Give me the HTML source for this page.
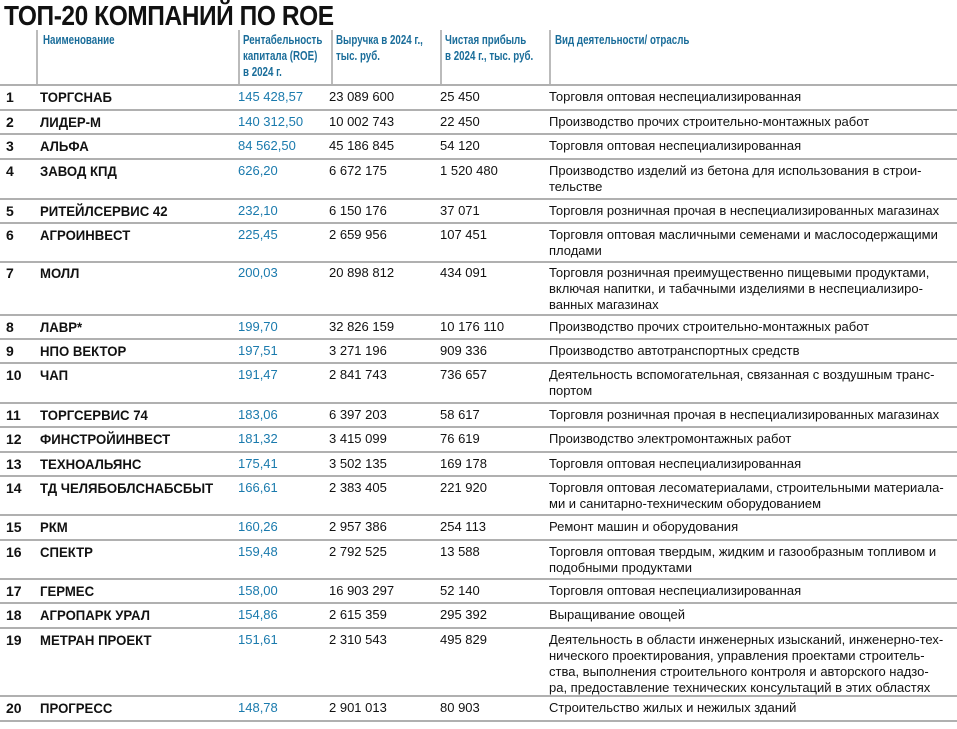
<!DOCTYPE html>
<html><head><meta charset="utf-8"><style>
body{margin:0;width:957px;height:729px;background:#fff;position:relative;overflow:hidden;font-family:"Liberation Sans","DejaVu Sans",sans-serif;color:#111}
.t{position:absolute;left:4px;top:1px;font-size:28px;font-weight:bold;letter-spacing:-0.5px;transform:scaleX(0.875);transform-origin:left;line-height:30px}
.h{position:absolute;top:32px;font-size:12.5px;font-weight:bold;color:#1a6d9a;line-height:16px;transform:scaleX(0.78);transform-origin:left;white-space:nowrap}
.v{position:absolute;top:30px;height:54px;width:2px;background:#bbb}
.l{position:absolute;left:0;width:957px;height:2px;background:#b0b0b0}
.r{position:absolute;left:0;width:957px;font-size:13px;line-height:16px}
.r span{position:absolute;top:0}
.n{left:6px;font-weight:bold;font-size:14px}
.c{left:40px;font-weight:bold;font-size:14px;transform:scaleX(0.94);transform-origin:left;white-space:nowrap}
.e{left:238px;color:#1a7aad}
.rv{left:329px}
.p{left:440px}
.a{left:549px;width:405px}
</style></head><body>
<div class="t">ТОП-20 КОМПАНИЙ ПО ROE</div>
<div class="v" style="left:36px"></div><div class="v" style="left:238px"></div><div class="v" style="left:331px"></div><div class="v" style="left:440px"></div><div class="v" style="left:549px"></div>
<div class="h" style="left:43px">Наименование</div>
<div class="h" style="left:243px">Рентабельность<br>капитала (ROE)<br>в 2024 г.</div>
<div class="h" style="left:336px">Выручка в 2024 г.,<br>тыс. руб.</div>
<div class="h" style="left:445px">Чистая прибыль<br>в 2024 г., тыс. руб.</div>
<div class="h" style="left:555px">Вид деятельности/ отрасль</div>

<div class="l" style="top:84px"></div>
<div class="r" style="top:89px"><span class="n">1</span><span class="c">ТОРГСНАБ</span><span class="e">145 428,57</span><span class="rv">23 089 600</span><span class="p">25 450</span><span class="a">Торговля оптовая неспециализированная</span></div>
<div class="l" style="top:109px"></div>
<div class="r" style="top:114px"><span class="n">2</span><span class="c">ЛИДЕР-М</span><span class="e">140 312,50</span><span class="rv">10 002 743</span><span class="p">22 450</span><span class="a">Производство прочих строительно-монтажных работ</span></div>
<div class="l" style="top:133px"></div>
<div class="r" style="top:138px"><span class="n">3</span><span class="c">АЛЬФА</span><span class="e">84 562,50</span><span class="rv">45 186 845</span><span class="p">54 120</span><span class="a">Торговля оптовая неспециализированная</span></div>
<div class="l" style="top:158px"></div>
<div class="r" style="top:163px"><span class="n">4</span><span class="c">ЗАВОД КПД</span><span class="e">626,20</span><span class="rv">6 672 175</span><span class="p">1 520 480</span><span class="a">Производство изделий из бетона для использования в строи-<br>тельстве</span></div>
<div class="l" style="top:198px"></div>
<div class="r" style="top:203px"><span class="n">5</span><span class="c">РИТЕЙЛСЕРВИС 42</span><span class="e">232,10</span><span class="rv">6 150 176</span><span class="p">37 071</span><span class="a">Торговля розничная прочая в неспециализированных магазинах</span></div>
<div class="l" style="top:222px"></div>
<div class="r" style="top:227px"><span class="n">6</span><span class="c">АГРОИНВЕСТ</span><span class="e">225,45</span><span class="rv">2 659 956</span><span class="p">107 451</span><span class="a">Торговля оптовая масличными семенами и маслосодержащими<br>плодами</span></div>
<div class="l" style="top:261px"></div>
<div class="r" style="top:265px"><span class="n">7</span><span class="c">МОЛЛ</span><span class="e">200,03</span><span class="rv">20 898 812</span><span class="p">434 091</span><span class="a">Торговля розничная преимущественно пищевыми продуктами,<br>включая напитки, и табачными изделиями в неспециализиро-<br>ванных магазинах</span></div>
<div class="l" style="top:314px"></div>
<div class="r" style="top:319px"><span class="n">8</span><span class="c">ЛАВР*</span><span class="e">199,70</span><span class="rv">32 826 159</span><span class="p">10 176 110</span><span class="a">Производство прочих строительно-монтажных работ</span></div>
<div class="l" style="top:338px"></div>
<div class="r" style="top:343px"><span class="n">9</span><span class="c">НПО ВЕКТОР</span><span class="e">197,51</span><span class="rv">3 271 196</span><span class="p">909 336</span><span class="a">Производство автотранспортных средств</span></div>
<div class="l" style="top:362px"></div>
<div class="r" style="top:367px"><span class="n">10</span><span class="c">ЧАП</span><span class="e">191,47</span><span class="rv">2 841 743</span><span class="p">736 657</span><span class="a">Деятельность вспомогательная, связанная с воздушным транс-<br>портом</span></div>
<div class="l" style="top:402px"></div>
<div class="r" style="top:407px"><span class="n">11</span><span class="c">ТОРГСЕРВИС 74</span><span class="e">183,06</span><span class="rv">6 397 203</span><span class="p">58 617</span><span class="a">Торговля розничная прочая в неспециализированных магазинах</span></div>
<div class="l" style="top:426px"></div>
<div class="r" style="top:431px"><span class="n">12</span><span class="c">ФИНСТРОЙИНВЕСТ</span><span class="e">181,32</span><span class="rv">3 415 099</span><span class="p">76 619</span><span class="a">Производство электромонтажных работ</span></div>
<div class="l" style="top:451px"></div>
<div class="r" style="top:456px"><span class="n">13</span><span class="c">ТЕХНОАЛЬЯНС</span><span class="e">175,41</span><span class="rv">3 502 135</span><span class="p">169 178</span><span class="a">Торговля оптовая неспециализированная</span></div>
<div class="l" style="top:475px"></div>
<div class="r" style="top:480px"><span class="n">14</span><span class="c">ТД ЧЕЛЯБОБЛСНАБСБЫТ</span><span class="e">166,61</span><span class="rv">2 383 405</span><span class="p">221 920</span><span class="a">Торговля оптовая лесоматериалами, строительными материала-<br>ми и санитарно-техническим оборудованием</span></div>
<div class="l" style="top:514px"></div>
<div class="r" style="top:519px"><span class="n">15</span><span class="c">РКМ</span><span class="e">160,26</span><span class="rv">2 957 386</span><span class="p">254 113</span><span class="a">Ремонт машин и оборудования</span></div>
<div class="l" style="top:539px"></div>
<div class="r" style="top:544px"><span class="n">16</span><span class="c">СПЕКТР</span><span class="e">159,48</span><span class="rv">2 792 525</span><span class="p">13 588</span><span class="a">Торговля оптовая твердым, жидким и газообразным топливом и<br>подобными продуктами</span></div>
<div class="l" style="top:578px"></div>
<div class="r" style="top:583px"><span class="n">17</span><span class="c">ГЕРМЕС</span><span class="e">158,00</span><span class="rv">16 903 297</span><span class="p">52 140</span><span class="a">Торговля оптовая неспециализированная</span></div>
<div class="l" style="top:602px"></div>
<div class="r" style="top:607px"><span class="n">18</span><span class="c">АГРОПАРК УРАЛ</span><span class="e">154,86</span><span class="rv">2 615 359</span><span class="p">295 392</span><span class="a">Выращивание овощей</span></div>
<div class="l" style="top:627px"></div>
<div class="r" style="top:632px"><span class="n">19</span><span class="c">МЕТРАН ПРОЕКТ</span><span class="e">151,61</span><span class="rv">2 310 543</span><span class="p">495 829</span><span class="a">Деятельность в области инженерных изысканий, инженерно-тех-<br>нического проектирования, управления проектами строитель-<br>ства, выполнения строительного контроля и авторского надзо-<br>ра, предоставление технических консультаций в этих областях</span></div>
<div class="l" style="top:695px"></div>
<div class="r" style="top:700px"><span class="n">20</span><span class="c">ПРОГРЕСС</span><span class="e">148,78</span><span class="rv">2 901 013</span><span class="p">80 903</span><span class="a">Строительство жилых и нежилых зданий</span></div>
<div class="l" style="top:720px"></div>
</body></html>
